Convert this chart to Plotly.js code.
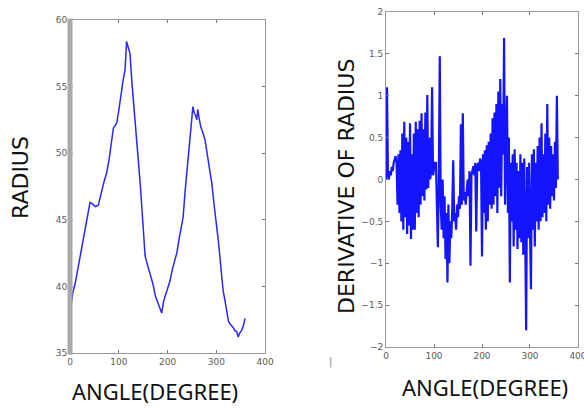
<!DOCTYPE html>
<html><head><meta charset="utf-8">
<script src="https://cdn.plot.ly/plotly-3.0.1.min.js"></script>
<style>html,body{margin:0;padding:0;background:#fff}#g{width:584px;height:409px}</style>
</head><body><div id="g"></div>
<script>
// Left chart: radius vs angle
const radiusAngle = [2,6,10,16,22,27,33,38,41,46,52,58,62,66,70,75,80,85,89,93,96,100,104,109,113,116,119,123,127,133,138,144,149,154,159,164,170,175,178,183,188,192,196,200,205,210,214,219,224,228,232,236,240,243,247,250,252,255,258,260,262,265,268,272,277,282,287,291,296,300,304,308,311,314,318,322,325,328,331,335,338,342,345,348,352,356,359];
const radiusValues = [38.5,39.6,40.1,41.3,42.6,43.7,45.0,45.7,46.3,46.2,46.0,46.1,46.6,47.3,47.9,48.5,49.5,50.7,51.9,52.1,52.3,53.2,54.3,55.5,56.3,58.4,58.0,57.5,55.3,52.7,50.1,47.7,45.0,42.3,41.6,41.0,40.2,39.3,39.0,38.6,38.0,38.9,39.4,39.9,40.4,41.3,41.8,42.5,43.6,44.5,45.2,47.1,48.8,49.7,51.8,52.9,53.5,53.0,52.8,52.5,53.3,52.6,52.0,51.6,51.0,49.8,48.7,47.7,46.0,44.9,43.5,42.0,40.8,39.7,38.9,38.1,37.4,37.2,37.1,36.9,36.7,36.6,36.2,36.5,36.7,37.1,37.6];

// Right chart: derivative of radius vs angle
const derivAngle = [0,2,4,6,8,10,12,14,16,18,20,22,24,26,28,30,32,34,36,38,40,42,44,46,48,50,52,54,56,58,60,62,64,66,68,70,72,74,76,78,80,82,84,86,88,90,92,94,96,98,100,102,104,106,108,110,112,114,116,118,120,122,124,126,128,130,132,134,136,138,140,142,144,146,148,150,152,154,156,158,160,162,164,166,168,170,172,174,176,178,180,182,184,186,188,190,192,194,196,198,200,202,204,206,208,210,212,214,216,218,220,222,224,226,228,230,232,234,236,238,240,242,244,246,248,250,252,254,256,258,260,262,264,266,268,270,272,274,276,278,280,282,284,286,288,290,292,294,296,298,300,302,304,306,308,310,312,314,316,318,320,322,324,326,328,330,332,334,336,338,340,342,344,346,348,350,352,354,356,358];
const derivValues = [
 0.0, 1.1, 0.05, 0.0, 0.1, 0.05, 0.15, 0.1, 0.2, 0.25,
 0.28, 0.2, -0.3, 0.3, -0.4, 0.35, -0.5, 0.55, -0.6, 0.69,
 -0.45, 0.5, -0.65, 0.45, -0.55, 0.67, -0.71, 0.3, -0.6, 0.55,
 -0.6, 0.69, -0.4, 0.6, -0.45, 0.7, -0.3, 0.79, -0.2, 0.6,
 -0.25, 0.8, -0.12, 1.01, -0.1, 0.5, 0.0, 0.1, 1.1, 0.05,
 0.15, 0.2, 0.2, -0.2, -0.81, 0.0, 1.47, -0.3, -0.6, 0.0,
 -0.7, -0.2, -0.95, -0.4, -1.23, -0.3, -1.0, -0.5, -0.7, -0.35,
 0.23, -0.5, -0.4, -0.6, -0.3, -0.45, -0.2, -0.35, 0.66, -0.3,
 0.79, -0.25, -0.15, -0.3, -0.1, 0.0, -0.2, 0.1, -1.03, 0.05,
 0.1, 0.16, 0.05, 0.2, -0.62, 0.15, 0.2, 0.1, 0.25, 0.2,
 -0.92, 0.3, -0.4, 0.35, -0.6, 0.41, -0.5, 0.45, -0.3, 0.55,
 -0.35, 0.73, -0.3, 0.8, -0.2, 0.9, -0.4, 1.05, -0.1, 1.2,
 -0.2, 0.9, 0.3, 1.69, -0.3, 0.7, 1.0, -0.4, 0.5, -1.23,
 0.2, -0.5, 0.3, -0.8, 0.36, -0.6, 0.2, -0.83, 0.1, -0.7,
 0.3, -0.75, 0.2, -0.9, 0.25, -0.6, -1.8, 0.15, -0.7, 0.2,
 -0.5, -1.31, 0.3, -0.6, 0.36, -0.8, 0.2, -0.5, 0.4, -0.6,
 0.5, -0.5, 0.67, -0.45, 0.3, -0.4, 0.55, -0.5, 0.9, -0.3,
 0.5, -0.35, 0.4, -0.2, 0.3, -0.25, 0.45, -0.1, 1.0, 0.0];

const xTicks = [0,100,200,300,400];
const radiusTicks = [35,40,45,50,55,60];
const derivTicks = [-2,-1.5,-1,-0.5,0,0.5,1,1.5,2];

const tickFont = {family:'DejaVu Sans', size:9, color:'#5a5a5a'};
const hTitleFont = {family:'Noto Sans', size:22, color:'#111'};
const vTitleFont = {family:'DejaVu Sans', size:22, color:'#111'};

const baseAxis = {showgrid:false, zeroline:false, showline:true, linecolor:'#999', linewidth:1,
  ticks:'inside', ticklen:3, tickcolor:'#777', tickfont:tickFont, mirror:'allticks'};

const traces = [
  {x: radiusAngle, y: radiusValues, xaxis:'x', yaxis:'y', mode:'lines',
   line:{color:'rgb(40,40,255)', width:1.5}, hoverinfo:'skip'},
  {x: derivAngle, y: derivValues, xaxis:'x2', yaxis:'y2', mode:'lines',
   line:{color:'rgb(20,20,255)', width:2.2}, hoverinfo:'skip'}
];

const layout = {
  width:584, height:409, margin:{l:0,r:0,t:0,b:0},
  paper_bgcolor:'#fff', plot_bgcolor:'#fff', showlegend:false,
  xaxis: Object.assign({}, baseAxis, {domain:[0.1199,0.4538], range:[0,400], tickvals:xTicks, anchor:'y'}),
  yaxis: Object.assign({}, baseAxis, {domain:[0.1369,0.951], range:[35,60], tickvals:radiusTicks, anchor:'x'}),
  xaxis2: Object.assign({}, baseAxis, {domain:[0.661,0.9897], range:[0,400], tickvals:xTicks, anchor:'y2', ticklabeloverflow:'allow'}),
  yaxis2: Object.assign({}, baseAxis, {domain:[0.1516,0.9707], range:[-2,2], tickvals:derivTicks, anchor:'x2'}),
  shapes: [
    {type:'line', xref:'x domain', yref:'y domain', x0:0, x1:0, y0:-0.005, y1:1.005,
     line:{color:'#aaa', width:5}}
  ],
  annotations: [
    {text:'RADIUS', xref:'paper', yref:'paper', x:20/584, y:1-178/409, xanchor:'center', yanchor:'middle', textangle:-90, showarrow:false, font:vTitleFont},
    {text:'ANGLE(DEGREE)', xref:'paper', yref:'paper', x:155/584, y:1-391/409, xanchor:'center', yanchor:'middle', showarrow:false, font:hTitleFont},
    {text:'DERIVATIVE OF RADIUS', xref:'paper', yref:'paper', x:346/584, y:1-187/409, xanchor:'center', yanchor:'middle', textangle:-90, showarrow:false, font:vTitleFont},
    {text:'ANGLE(DEGREE)', xref:'paper', yref:'paper', x:485/584, y:1-387/409, xanchor:'center', yanchor:'middle', showarrow:false, font:hTitleFont},
    {text:'|', xref:'paper', yref:'paper', x:330/584, y:1-362/409, xanchor:'center', yanchor:'middle', showarrow:false, font:{family:'DejaVu Sans', size:10, color:'#7088aa'}}
  ]
};

Plotly.newPlot('g', traces, layout, {staticPlot:true, displayModeBar:false});
</script>
</body></html>
